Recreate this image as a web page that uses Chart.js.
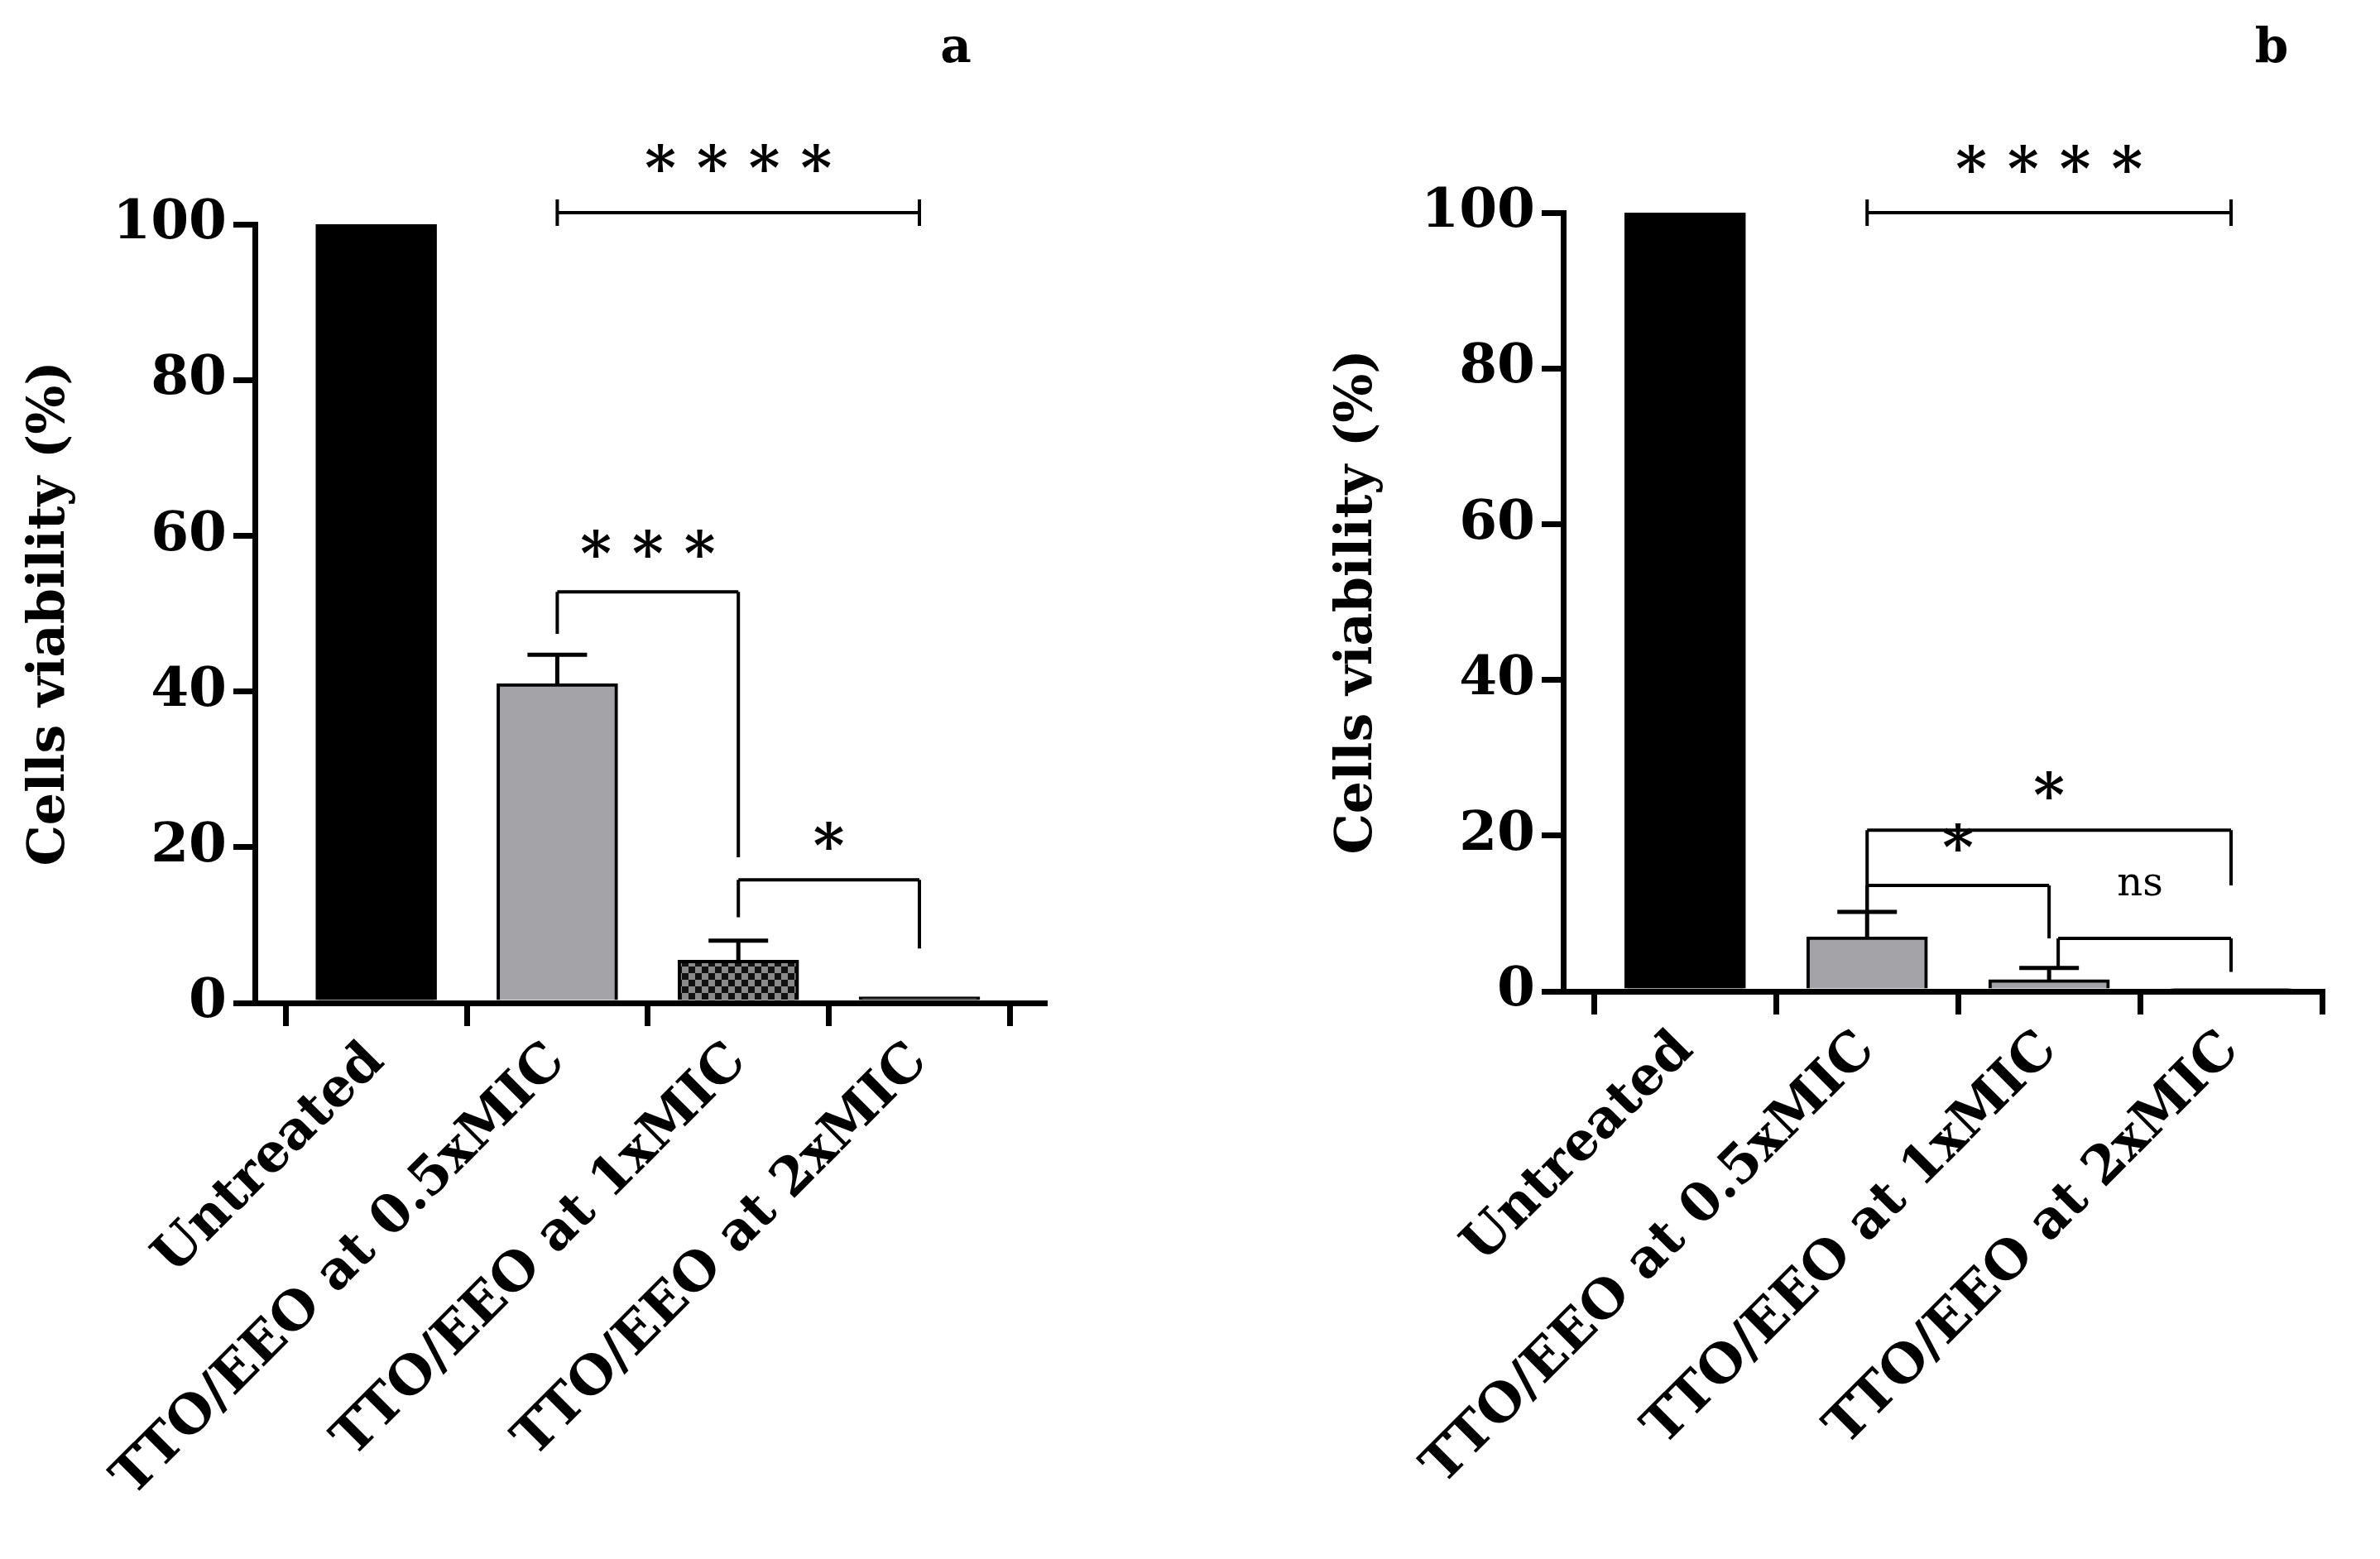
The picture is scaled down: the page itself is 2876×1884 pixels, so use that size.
<!DOCTYPE html>
<html><head><meta charset="utf-8">
<script src="https://cdn.jsdelivr.net/npm/chart.js@4"></script>
<style>
body{margin:0;background:#fff;}
#wrap{position:relative;width:2876px;height:1884px;}
canvas{position:absolute;top:0;}
</style></head><body>
<div id="wrap">
<canvas id="ca" style="left:0"></canvas>
<canvas id="cb" style="left:1438px"></canvas>
</div>
<script>
const categories = ["Untreated", "TTO/EEO at 0.5xMIC", "TTO/EEO at 1xMIC", "TTO/EEO at 2xMIC"];
const yTicks = [0, 20, 40, 60, 80, 100];
const valuesA = [100, 41, 5.5, 0.8];
const errorsA = [0, 3.7, 2.5, 0];
const valuesB = [100, 7, 1.5, 0.3];
const errorsB = [0, 3.2, 1.5, 0];
// brackets: [x1, x2, y, leftLegTo, rightLegTo, label, labelX, labelY]
const bracketsA = [
  [1, 3, 101.5, null, null, "* * * *", 2, 108],
  [1, 2, 52.8, 47.4, 18.7, "* * *", 1.5, 58.5],
  [2, 3, 15.8, 11, 7, "*", 2.5, 21],
];
const bracketsB = [
  [1, 3, 100, null, null, "* * * *", 2, 106.5],
  [1, 3, 20.7, 10.3, 13.6, "*", 2, 26],
  [1, 2, 13.6, 10.3, 6.8, "*", 1.5, 19.3],
  [2.05, 3, 6.8, 2.9, 2.5, "ns", 2.5, 13.6],
];

const SERIF = "'DejaVu Serif', serif";

function checker() {
  const c = document.createElement("canvas");
  c.width = 16; c.height = 16;
  const g = c.getContext("2d");
  g.fillStyle = "#8a8a8a"; g.fillRect(0, 0, 16, 16);
  g.fillStyle = "#111"; g.fillRect(0, 0, 8, 8); g.fillRect(8, 8, 8, 8);
  return g.createPattern(c, "repeat");
}

function makePanel(id, vals, errs, brackets, letter, colors, geo) {
  const el = document.getElementById(id);
  el.width = 1438; el.height = 1884;
  const overlay = {
    id: "overlay",
    afterDatasetsDraw(chart) {
      const ctx = chart.ctx, x = chart.scales.x, y = chart.scales.y;
      ctx.save();
      ctx.strokeStyle = "#000"; ctx.lineWidth = 5; ctx.lineCap = "butt";
      vals.forEach((v, i) => {
        if (!errs[i]) return;
        const px = x.getPixelForValue(i);
        ctx.beginPath();
        ctx.moveTo(px, y.getPixelForValue(v));
        ctx.lineTo(px, y.getPixelForValue(v + errs[i]));
        ctx.moveTo(px - 36, y.getPixelForValue(v + errs[i]));
        ctx.lineTo(px + 36, y.getPixelForValue(v + errs[i]));
        ctx.stroke();
      });
      ctx.lineWidth = 4;
      brackets.forEach(b => {
        const x1 = x.getPixelForValue(b[0]), x2 = x.getPixelForValue(b[1]), py = y.getPixelForValue(b[2]);
        ctx.beginPath();
        ctx.moveTo(x1, py); ctx.lineTo(x2, py);
        if (b[3] === null) {
          ctx.moveTo(x1, py - 16); ctx.lineTo(x1, py + 16);
          ctx.moveTo(x2, py - 16); ctx.lineTo(x2, py + 16);
        } else {
          ctx.moveTo(x1, py); ctx.lineTo(x1, y.getPixelForValue(b[3]));
          ctx.moveTo(x2, py); ctx.lineTo(x2, y.getPixelForValue(b[4]));
        }
        ctx.stroke();
        ctx.fillStyle = "#000";
        ctx.textAlign = "center"; ctx.textBaseline = "middle";
        ctx.font = b[5] === "ns" ? "48px " + SERIF : "bold 72px " + SERIF;
        ctx.fillText(b[5], x.getPixelForValue(b[6]), y.getPixelForValue(b[7]) + (b[5] === "ns" ? 0 : 14));
      });
      ctx.font = "bold 58px " + SERIF;
      ctx.fillText(letter, geo.letterX, 60);
      ctx.restore();
    }
  };
  return new Chart(el, {
    type: "bar",
    data: {
      datasets: [{
        data: vals.map((v, i) => ({ x: i, y: v })),
        backgroundColor: colors,
        borderColor: "#000",
        borderWidth: 4,
        barThickness: 146,
      }],
    },
    options: {
      responsive: false,
      animation: false,
      layout: { padding: { top: geo.top, left: geo.left, right: geo.right, bottom: 0 } },
      plugins: { legend: { display: false }, tooltip: { enabled: false } },
      scales: {
        x: {
          type: "linear", min: -0.67, max: geo.xmax, offset: false,
          afterBuildTicks: s => { s.ticks = [0, 1, 2, 3].map(v => ({ value: v })); },
          afterFit: s => { s.height = 1884 - geo.bottom; },
          grid: { display: true, drawOnChartArea: false, drawTicks: true, tickLength: 28, lineWidth: 7, color: "#000" },
          border: { color: "#000", width: 7 },
          ticks: { autoSkip: false, maxRotation: 45, minRotation: 45, padding: 6, color: "#000",
                   font: { family: SERIF, size: 64, weight: "bold" },
                   callback: v => categories[v] },
        },
        y: {
          min: 0, max: 100,
          afterBuildTicks: s => { s.ticks = yTicks.map(v => ({ value: v })); },
          afterFit: s => { s.width = geo.ywidth; },
          grid: { drawOnChartArea: false, tickLength: 26, lineWidth: 7, color: "#000" },
          border: { color: "#000", width: 7 },
          ticks: { color: "#000", padding: 8, font: { family: SERIF, size: 66, weight: "bold" } },
          title: { display: true, text: "Cells viability (%)", color: "#000", padding: 0,
                   font: { family: SERIF, size: 62, weight: "bold" } },
        },
      },
    },
    plugins: [overlay],
  });
}

makePanel("ca", valuesA, errorsA, bracketsA, "a", ["#000", "#a4a3a8", checker(), "#333"],
  { top: 271, bottom: 1212, left: 24, ywidth: 284, right: 176, xmax: 3.69, letterX: 1155 });
makePanel("cb", valuesB, errorsB, bracketsB, "b", ["#000", "#a4a3a8", "#a4a3a8", "#333"],
  { top: 257, bottom: 1198, left: 166, ywidth: 285, right: 70, xmax: 3.5, letterX: 1307 });
</script>
</body></html>
